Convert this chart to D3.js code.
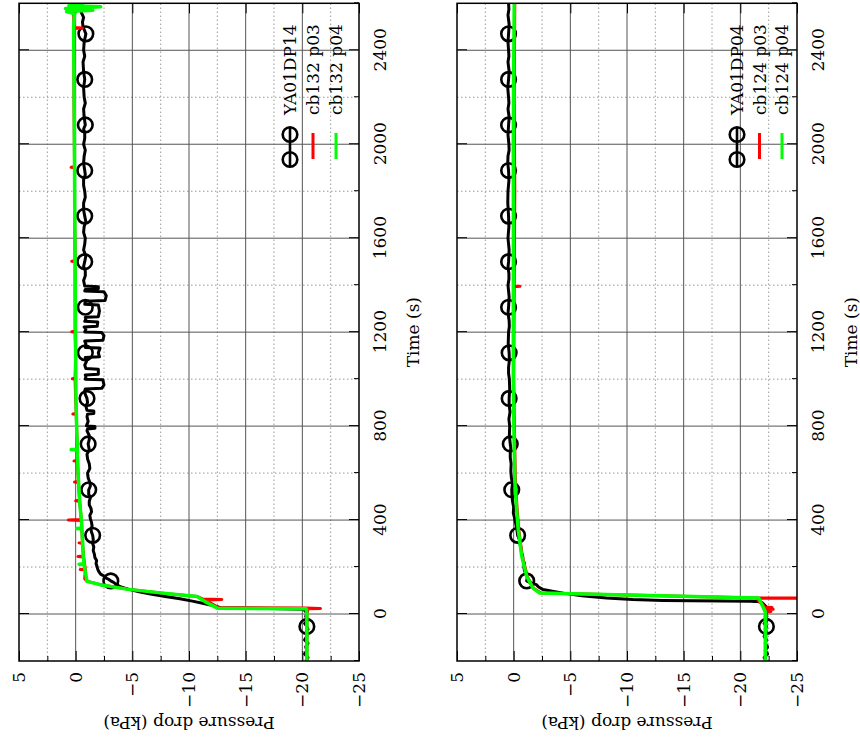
<!DOCTYPE html>
<html>
<head>
<meta charset="utf-8">
<script src="https://cdn.jsdelivr.net/npm/d3@7/dist/d3.min.js"></script>
<style>
html,body{margin:0;padding:0;background:#fff;}
svg{display:block;}
</style>
</head>
<body>
<svg id="chart" width="860" height="740"></svg>
<script>
// ---------------- DATA ----------------
const timeTicks = [0, 400, 800, 1200, 1600, 2000, 2400];
const timeMinorTicks = [-200, 200, 600, 1000, 1400, 1800, 2200, 2600];
const pressureTicks = [5, 0, -5, -10, -15, -20, -25];
const pressureMinorTicks = [2.5, -2.5, -7.5, -12.5, -17.5, -22.5];

const markerTimes = [-53, 141, 335, 529, 724, 918, 1112, 1306, 1500, 1694, 1888, 2082, 2276, 2470];

// Panel 1 (top in original): YA01DP14, cb132
const dp14Label = "YA01DP14";
const cb132p03Label = "cb132 p03";
const cb132p04Label = "cb132 p04";
const dp14 = [[-200,-20.3],[-185,-20.5],[-170,-20.2],[-155,-20.4],[-140,-20.3],[-125,-20.5],[-110,-20.2],[-95,-20.4],[-80,-20.3],[-65,-20.5],[-53,-20.4],[-40,-20.2],[-25,-20.5],[-10,-20.3],[5,-20.4],[15,-20.2],[20,-20.2],[24,-17.0],[27,-12.8],[35,-12.2],[45,-11.3],[55,-10.3],[65,-9.2],[75,-7.9],[85,-6.6],[95,-5.6],[105,-4.7],[115,-4.0],[125,-3.6],[133,-3.4],[141,-3.1],[148,-2.9],[155,-2.6],[162,-2.5],[170,-2.2],[180,-2.05],[190,-1.95],[200,-1.9],[215,-1.8],[228,-1.85],[240,-1.7],[255,-1.65],[270,-1.55],[285,-1.6],[300,-1.5],[318,-1.55],[335,-1.5],[348,-1.4],[360,-1.35],[375,-1.45],[390,-1.4],[405,-1.3],[420,-1.25],[435,-1.4],[450,-1.35],[465,-1.2],[480,-1.2],[495,-1.3],[510,-1.15],[529,-1.15],[545,-1.3],[560,-1.25],[580,-1.1],[600,-1.05],[620,-1.25],[640,-1.2],[660,-1.05],[680,-1.0],[700,-1.2],[724,-1.1],[742,-1.2],[760,-1.2],[780,-1.0],[788,-1.05],[791,-1.7],[798,-1.7],[801,-0.95],[820,-1.1],[840,-1.0],[851,-1.05],[854,-1.6],[864,-1.6],[867,-1.0],[885,-0.9],[900,-1.05],[918,-1.0],[935,-0.85],[950,-0.8],[958,-0.85],[961,-2.3],[975,-2.5],[997,-2.4],[1000,-0.85],[1010,-0.9],[1018,-0.85],[1021,-2.0],[1042,-2.0],[1045,-0.9],[1060,-0.8],[1075,-0.95],[1092,-0.85],[1095,-2.1],[1112,-2.0],[1132,-2.15],[1135,-0.85],[1150,-0.9],[1162,-0.8],[1165,-2.4],[1185,-2.5],[1198,-2.3],[1201,-0.8],[1212,-0.9],[1222,-0.75],[1225,-1.9],[1243,-1.95],[1246,-0.8],[1256,-0.9],[1263,-0.85],[1266,-2.0],[1290,-2.1],[1316,-2.0],[1319,-0.8],[1332,-0.85],[1335,-2.6],[1355,-2.7],[1372,-2.5],[1375,-0.8],[1382,-0.85],[1385,-2.0],[1393,-2.0],[1396,-0.8],[1420,-0.7],[1440,-0.85],[1460,-0.85],[1480,-0.7],[1500,-0.8],[1525,-0.9],[1550,-0.7],[1575,-0.8],[1600,-0.85],[1625,-0.7],[1650,-0.75],[1670,-0.9],[1694,-0.8],[1720,-0.7],[1750,-0.7],[1775,-0.85],[1800,-0.8],[1825,-0.7],[1850,-0.7],[1870,-0.85],[1888,-0.8],[1920,-0.7],[1950,-0.75],[1975,-0.85],[2000,-0.7],[2025,-0.8],[2050,-0.8],[2065,-0.7],[2082,-0.85],[2115,-0.75],[2150,-0.7],[2175,-0.85],[2200,-0.75],[2240,-0.7],[2276,-0.8],[2310,-0.7],[2350,-0.65],[2375,-0.8],[2400,-0.7],[2435,-0.75],[2470,-0.9],[2500,-0.65],[2520,-0.6],[2540,-0.7],[2560,-0.5],[2580,-0.6],[2600,-0.55]];
const dp14Markers = [-20.4,-3.1,-1.5,-1.15,-1.1,-1.0,-0.85,-0.85,-0.8,-0.8,-0.8,-0.85,-0.8,-0.9];
const cb132p03 = [[-200,-20.4],[0,-20.4],[20,-20.5],[22,-20.5],[24,-21.6],[26,-20.3],[27,-12.6],[50,-11.8],[60,-11.6],[62,-12.9],[64,-11.2],[75,-10.7],[90,-7.4],[106,-4.6],[125,-2.2],[139,-1.05],[150,-0.8],[188,-0.85],[190,-0.4],[192,-0.85],[243,-0.7],[245,-0.2],[247,-0.7],[300,-0.6],[303,-0.3],[306,-0.6],[398,-0.5],[400,0.65],[402,-0.5],[480,-0.35],[482,0.0],[484,-0.35],[560,-0.25],[562,0.1],[564,-0.25],[650,-0.15],[652,0.15],[654,-0.15],[771,-0.1],[850,-0.05],[852,0.25],[854,-0.05],[913,0.0],[1000,0.05],[1002,0.3],[1004,0.05],[1100,0.0],[1200,0.05],[1202,0.35],[1204,0.05],[1300,0.05],[1500,0.05],[1502,0.35],[1504,0.05],[1700,0.1],[1900,0.1],[1902,0.4],[1904,0.1],[2200,0.15],[2493,0.15],[2495,-0.6],[2497,0.15],[2600,0.2]];
const cb132p04 = [[-200,-20.4],[0,-20.4],[22,-20.35],[25,-12.5],[50,-11.5],[75,-10.7],[90,-7.5],[106,-4.5],[125,-2.15],[139,-1.0],[180,-0.85],[210,-0.75],[212,-0.3],[214,-0.75],[245,-0.67],[320,-0.6],[362,-0.55],[364,-0.1],[366,-0.55],[401,-0.5],[480,-0.35],[586,-0.23],[680,-0.15],[698,-0.15],[700,0.4],[702,-0.15],[771,-0.1],[913,-0.03],[1100,0.0],[1300,0.02],[1500,0.05],[1700,0.08],[1900,0.1],[2100,0.12],[2300,0.15],[2500,0.18],[2555,0.1],[2565,0.8],[2570,-1.5],[2578,0.9],[2585,-2.2],[2590,0.6],[2595,-0.6],[2600,0.3]];

// Panel 2 (bottom in original): YA01DP04, cb124
const dp04Label = "YA01DP04";
const cb124p03Label = "cb124 p03";
const cb124p04Label = "cb124 p04";
const dp04 = [[-200,-22.3],[-185,-22.1],[-170,-22.4],[-155,-22.2],[-140,-22.4],[-125,-22.2],[-110,-22.3],[-95,-22.1],[-80,-22.3],[-65,-22.2],[-53,-22.3],[-40,-22.1],[-25,-22.4],[-10,-22.2],[5,-22.3],[20,-22.1],[30,-22.3],[45,-22.0],[52,-21.8],[54,-20.9],[58,-13.2],[62,-10.5],[68,-8.2],[78,-6.0],[89,-4.4],[97,-3.4],[104,-2.6],[115,-2.2],[125,-2.0],[133,-1.5],[141,-1.15],[155,-1.2],[170,-1.1],[185,-0.95],[200,-0.9],[215,-0.95],[230,-0.8],[245,-0.8],[260,-0.7],[280,-0.65],[300,-0.55],[318,-0.5],[335,-0.35],[355,-0.3],[380,-0.2],[405,-0.1],[430,0.03],[455,0.0],[480,0.1],[505,0.15],[529,0.17],[555,0.1],[580,0.2],[610,0.25],[640,0.22],[665,0.3],[690,0.3],[705,0.25],[724,0.3],[760,0.38],[800,0.35],[830,0.42],[860,0.32],[890,0.4],[918,0.4],[960,0.35],[1000,0.38],[1025,0.45],[1050,0.45],[1080,0.38],[1112,0.4],[1150,0.48],[1200,0.45],[1225,0.38],[1250,0.4],[1280,0.5],[1306,0.45],[1350,0.4],[1400,0.5],[1425,0.42],[1450,0.42],[1475,0.5],[1500,0.45],[1550,0.4],[1600,0.5],[1650,0.42],[1694,0.45],[1750,0.52],[1800,0.5],[1845,0.42],[1888,0.45],[1920,0.52],[1950,0.5],[1975,0.4],[2000,0.42],[2040,0.5],[2082,0.45],[2115,0.4],[2150,0.5],[2175,0.42],[2200,0.45],[2240,0.52],[2276,0.45],[2310,0.4],[2350,0.5],[2375,0.42],[2400,0.45],[2435,0.5],[2470,0.45],[2510,0.4],[2550,0.5],[2575,0.42],[2600,0.45]];
const dp04Markers = [-22.3,-1.15,-0.35,0.17,0.3,0.4,0.4,0.45,0.45,0.45,0.45,0.45,0.45,0.45];
const cb124p03 = [[-200,-22.2],[0,-22.3],[9,-22.3],[11,-22.7],[13,-22.2],[18,-22.2],[20,-22.9],[22,-22.2],[26,-22.1],[28,-22.8],[30,-22.1],[40,-22.0],[55,-21.6],[66,-21.5],[67.5,-21.5],[68,-40],[68.5,-21.3],[89,-2.4],[110,-1.75],[160,-1.2],[250,-0.75],[359,-0.45],[450,-0.3],[572,-0.15],[700,-0.1],[850,-0.05],[1000,0.0],[1393,-0.05],[1395,-0.55],[1397,-0.05],[1800,-0.1],[2200,-0.05],[2600,-0.1]];
const cb124p04 = [[-200,-22.2],[4,-22.2],[11,-22.2],[30,-22.0],[50,-21.8],[62,-21.7],[68,-21.6],[89,-2.3],[110,-1.7],[160,-1.15],[250,-0.7],[359,-0.4],[450,-0.25],[572,-0.1],[700,-0.05],[850,0.0],[1000,0.03],[1300,0.03],[1600,0.02],[2000,0.03],[2300,0.0],[2600,-0.05]];

// ---------------- LAYOUT ----------------
const FONT = "DejaVu Serif";
const svg = d3.select("#chart");
// Original figure is drawn in a 740 x 860 frame, then rotated -90deg.
const g = svg.append("g").attr("transform", "translate(0,740) rotate(-90)");

const x = d3.scaleLinear().domain([-200, 2600]).range([79, 736.7]);
const fmtP = d => d < 0 ? "\u2212" + Math.abs(d) : String(d);

const panels = [
  {top: 19, bottom: 359, black: dp14, markers: dp14Markers, red: cb132p03, green: cb132p04,
   labels: [dp14Label, cb132p03Label, cb132p04Label], legendRows: [290, 313, 336]},
  {top: 457, bottom: 797, black: dp04, markers: dp04Markers, red: cb124p03, green: cb124p04,
   labels: [dp04Label, cb124p03Label, cb124p04Label], legendRows: [737, 759.5, 782]}
];

panels.forEach((P, i) => {
  const y = d3.scaleLinear().domain([-25, 5]).range([P.bottom, P.top]);
  const pg = g.append("g");
  const [x0, x1] = x.range();

  // grid minor
  pg.append("g").selectAll("line").data(timeMinorTicks.filter(t => t > -200 && t < 2600)).join("line")
    .attr("x1", d => x(d)).attr("x2", d => x(d)).attr("y1", P.top).attr("y2", P.bottom)
    .attr("stroke", "#999").attr("stroke-width", 1).attr("stroke-dasharray", "1.5,2.5");
  pg.append("g").selectAll("line").data(pressureMinorTicks).join("line")
    .attr("x1", x0).attr("x2", x1).attr("y1", d => y(d)).attr("y2", d => y(d))
    .attr("stroke", "#999").attr("stroke-width", 1).attr("stroke-dasharray", "1.5,2.5");
  // grid major
  pg.append("g").selectAll("line").data(timeTicks).join("line")
    .attr("x1", d => x(d)).attr("x2", d => x(d)).attr("y1", P.top).attr("y2", P.bottom)
    .attr("stroke", "#555").attr("stroke-width", 1);
  pg.append("g").selectAll("line").data(pressureTicks.filter(p => p > -25 && p < 5)).join("line")
    .attr("x1", x0).attr("x2", x1).attr("y1", d => y(d)).attr("y2", d => y(d))
    .attr("stroke", "#555").attr("stroke-width", 1);

  // axes with inward ticks
  const axB = pg.append("g").attr("transform", `translate(0,${P.bottom})`)
    .call(d3.axisBottom(x).tickValues(timeTicks).tickSizeInner(-10).tickSizeOuter(0).tickPadding(0).tickFormat(d3.format("d")));
  axB.select(".domain").remove();
  axB.selectAll("text").attr("y", 21).attr("dy", "0.36em")
    .attr("font-family", FONT).attr("font-size", 17).attr("fill", "#000");

  const axT = pg.append("g").attr("transform", `translate(0,${P.top})`)
    .call(d3.axisTop(x).tickValues(timeTicks).tickSizeInner(-10).tickSizeOuter(0).tickFormat(""));
  axT.select(".domain").remove();

  const axL = pg.append("g").attr("transform", `translate(${x0},0)`)
    .call(d3.axisLeft(y).tickValues(pressureTicks).tickSizeInner(-10).tickSizeOuter(0).tickPadding(11).tickFormat(fmtP));
  axL.select(".domain").remove();
  axL.selectAll("text").attr("font-family", FONT).attr("font-size", 17).attr("fill", "#000");

  const axR = pg.append("g").attr("transform", `translate(${x1},0)`)
    .call(d3.axisRight(y).tickValues(pressureTicks).tickSizeInner(-10).tickSizeOuter(0).tickFormat(""));
  axR.select(".domain").remove();

  // minor ticks
  const mB = pg.append("g").attr("transform", `translate(0,${P.bottom})`)
    .call(d3.axisBottom(x).tickValues(timeMinorTicks).tickSizeInner(-5).tickSizeOuter(0).tickFormat(""));
  mB.select(".domain").remove();
  const mL = pg.append("g").attr("transform", `translate(${x0},0)`)
    .call(d3.axisLeft(y).tickValues(pressureMinorTicks).tickSizeInner(-5).tickSizeOuter(0).tickFormat(""));
  mL.select(".domain").remove();

  // clip
  const cid = "clip" + i;
  svg.append("defs").append("clipPath").attr("id", cid).append("rect")
    .attr("x", x0).attr("y", P.top).attr("width", x1 - x0).attr("height", P.bottom - P.top);

  const line = d3.line().x(d => x(d[0])).y(d => y(d[1]));
  const data = pg.append("g").attr("clip-path", `url(#${cid})`);
  data.append("path").datum(P.black).attr("d", line).attr("fill", "none")
    .attr("stroke", "#000").attr("stroke-width", 3).attr("stroke-linejoin", "round");
  data.append("g").selectAll("circle").data(markerTimes.map((t, k) => [t, P.markers[k]])).join("circle")
    .attr("cx", d => x(d[0])).attr("cy", d => y(d[1])).attr("r", 7.3)
    .attr("fill", "none").attr("stroke", "#000").attr("stroke-width", 2.6);
  data.append("path").datum(P.red).attr("d", line).attr("fill", "none")
    .attr("stroke", "#ff0000").attr("stroke-width", 3).attr("stroke-linejoin", "round");
  data.append("path").datum(P.green).attr("d", line).attr("fill", "none")
    .attr("stroke", "#00ff00").attr("stroke-width", 3.5).attr("stroke-linejoin", "round");

  // frame
  pg.append("rect").attr("x", x0).attr("y", P.top).attr("width", x1 - x0).attr("height", P.bottom - P.top)
    .attr("fill", "none").attr("stroke", "#000").attr("stroke-width", 1.5);

  // axis titles
  pg.append("text").attr("x", (x0 + x1) / 2).attr("y", P.bottom + 54).attr("dy", "0.35em")
    .attr("text-anchor", "middle").attr("font-family", FONT).attr("font-size", 17).text("Time (s)");
  const cy = (P.top + P.bottom) / 2;
  pg.append("text").attr("transform", `translate(17,${cy}) rotate(-90)`).attr("dy", "0.35em")
    .attr("text-anchor", "middle").attr("font-family", FONT).attr("font-size", 17).text("Pressure drop (kPa)");

  // legend
  const lg = pg.append("g");
  const colors = ["#000", "#ff0000", "#00ff00"];
  P.legendRows.forEach((rv, k) => {
    if (k === 0) {
      lg.append("line").attr("x1", 573).attr("x2", 613).attr("y1", rv).attr("y2", rv)
        .attr("stroke", "#000").attr("stroke-width", 2.6);
      [580.5, 605.5].forEach(cu => lg.append("circle").attr("cx", cu).attr("cy", rv).attr("r", 7.3)
        .attr("fill", "none").attr("stroke", "#000").attr("stroke-width", 2.6));
    } else {
      lg.append("line").attr("x1", 581).attr("x2", 607).attr("y1", rv).attr("y2", rv)
        .attr("stroke", colors[k]).attr("stroke-width", 3);
    }
    lg.append("text").attr("x", 625).attr("y", rv).attr("dy", "0.36em")
      .attr("font-family", FONT).attr("font-size", 17).text(P.labels[k]);
  });
});
</script>
</body>
</html>
